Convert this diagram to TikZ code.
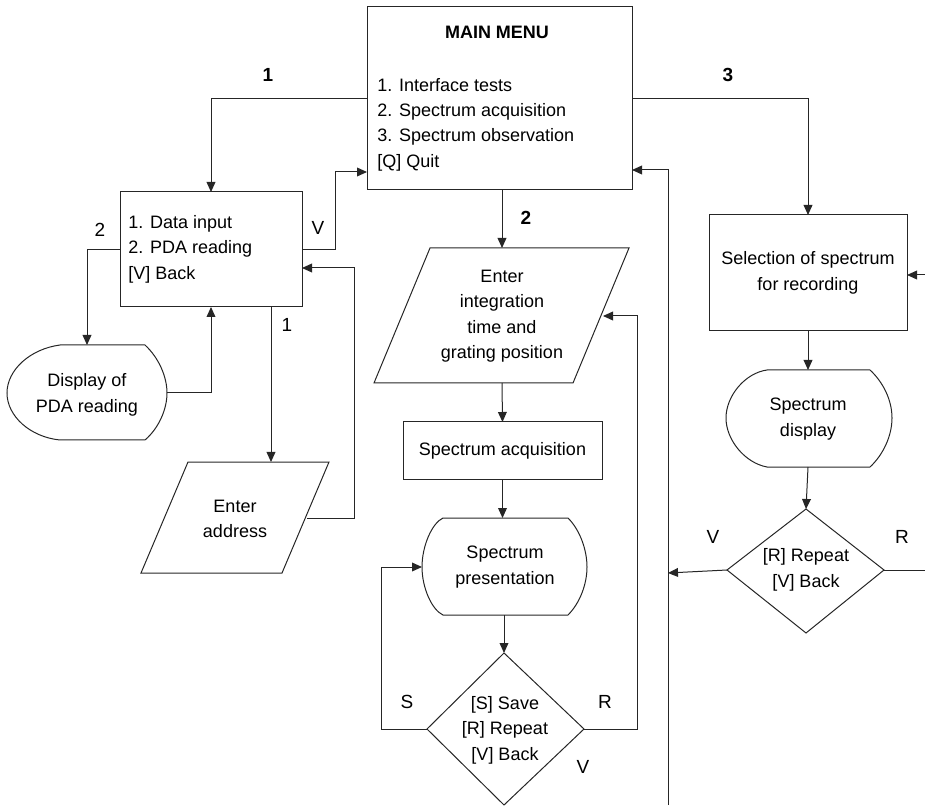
\documentclass[tikz,border=0pt]{standalone}
\usepackage{fontspec}
\setmainfont{Liberation Sans}
\usetikzlibrary{arrows.meta}
\begin{document}
\begin{tikzpicture}[x=0.5pt,y=-0.5pt,
  line/.style={draw=black!85, line width=0.5pt},
  arr/.style={line, -{Triangle[length=5pt,width=4.4pt]}},
  txt/.style={font=\fontsize{9}{12.7}\selectfont, align=center, inner sep=0pt},
  btxt/.style={font=\bfseries\fontsize{9}{12.7}\selectfont, inner sep=0pt},
  lbl/.style={font=\fontsize{9.5}{11}\selectfont, inner sep=0pt},
  blbl/.style={font=\bfseries\fontsize{9.5}{11}\selectfont, inner sep=0pt},
  box/.style={line, rectangle, inner sep=0pt, outer sep=0pt}]
\useasboundingbox (0,0) rectangle (925,806);

% ---------- main menu ----------
\node[box, minimum width=132.5pt, minimum height=91.5pt] (menu) at (499.5,98.5) {};
\node[btxt] (menutitle) at (497,32) {MAIN MENU};
\node[txt, align=left, anchor=west] (menutext) at (377,124.5)
  {1. Interface tests\\2. Spectrum acquisition\\3. Spectrum observation\\{}[Q] Quit};

% ---------- left column ----------
\node[box, minimum width=91pt, minimum height=57.5pt] (lbox) at (211,249.5) {};
\node[txt, align=left, anchor=west] (lboxtext) at (128,249)
  {1. Data input\\2. PDA reading\\{}[V] Back};

% display of PDA reading
\draw[line] (60,345) -- (145,345) .. controls (159,358) and (167,377) .. (167,393)
  .. controls (167,409) and (159,428) .. (145,440) -- (60,440)
  .. controls (30,437) and (7,416) .. (7,393)
  .. controls (7,370) and (30,349) .. (60,345) -- cycle;
\coordinate (d1t) at (87,345);
\coordinate (d1r) at (167,393);
\node[txt] (disp1) at (87,395) {Display of\\PDA reading};

% enter address
\draw[line] (188,462) -- (329,462) -- (282,573) -- (141,573) -- cycle;
\coordinate (par2t) at (271,462);
\coordinate (par2r) at (307,518);
\node[txt] (par2) at (235,519) {Enter\\address};

% ---------- middle column ----------
\draw[line] (430,248) -- (629,248) -- (573,383) -- (374,383) -- cycle;
\coordinate (par1t) at (502,248);
\coordinate (par1b) at (502,383);
\coordinate (par1r) at (603,316);
\node[txt] (par1) at (502,316) {Enter\\integration\\time and\\grating position};

\node[box, txt, minimum width=99.5pt, minimum height=28.5pt] (acqbox) at (502.5,450.5) {Spectrum acquisition};

% spectrum presentation
\draw[line] (443,518) -- (568,518) .. controls (580,530) and (587,550) .. (587,567)
  .. controls (587,584) and (580,603) .. (568,615) -- (443,615)
  .. controls (432,610) and (422,588) .. (422,567)
  .. controls (422,546) and (432,523) .. (443,518) -- cycle;
\coordinate (d2t) at (502.5,518);
\coordinate (d2b) at (504,615);
\coordinate (d2l) at (422,567);
\node[txt] (disp2) at (505,567) {Spectrum\\presentation};

% diamond 1
\draw[line] (504,653) -- (584,729) -- (504,805) -- (427,729) -- cycle;
\coordinate (dia1t) at (504,653);
\coordinate (dia1l) at (427,729);
\coordinate (dia1r) at (584,729);
\node[txt] (dia1) at (505,730) {[S] Save\\{}[R] Repeat\\{}[V] Back};

% ---------- right column ----------
\node[box, txt, minimum width=99pt, minimum height=58pt] (selbox) at (808,273) {Selection of spectrum\\for recording};

% spectrum display
\draw[line] (767,370) -- (870,370) .. controls (883,382) and (892,400) .. (892,418)
  .. controls (892,436) and (883,455) .. (870,467) -- (767,467)
  .. controls (745,463) and (726,440) .. (726,418)
  .. controls (726,396) and (745,373) .. (767,370) -- cycle;
\coordinate (d3t) at (808,370);
\coordinate (d3b) at (808,467);
\node[txt] (disp3) at (808,419) {Spectrum\\display};

% diamond 2
\draw[line] (806,509) -- (884,570) -- (806,633) -- (727,570) -- cycle;
\coordinate (dia2t) at (806,509);
\coordinate (dia2l) at (727,570);
\coordinate (dia2r) at (884,570);
\node[txt] (dia2) at (806,570) {[R] Repeat\\{}[V] Back};

% free ends
\coordinate (retb) at (668,805);
\coordinate (retv) at (668,573);
\coordinate (rout) at (925,570);
\coordinate (rin) at (925,275);

% ---------- connectors ----------
\draw[arr] (menu.west) -| (lbox.north);
\draw[arr] (menu.south -| par1t) -- (par1t);
\draw[arr] (menu.east) -| (selbox.north);
\draw[arr] (lbox.east) -- ++(33,0) |- ([yshift=9pt]menu.south west);
\draw[arr] (lbox.west) -| (d1t);
\draw[arr] (d1r) -| (lbox.south);
\draw[arr] (lbox.south -| par2t) -- (par2t);
\draw[arr] (par2r) -- ++(47,0) |- ([yshift=-9.25pt]lbox.east);
\draw[arr] (par1b) -- (acqbox.north);
\draw[arr] (acqbox.south) -- (d2t);
\draw[arr] (d2b) -- (dia1t);
\draw[arr] (dia1l) -- ++(-46,0) |- (d2l);
\draw[arr] (dia1r) -- ++(53,0) |- (par1r);
\draw[arr] (retb) |- ([yshift=-35.75pt]menu.east);
\draw[arr] (selbox.south) -- (d3t);
\draw[arr] (d3b) -- (dia2t);
\draw[arr] (dia2l) -- (retv);
\draw[line] (dia2r) -- (rout);
\draw[arr] (rin) -- (selbox.east |- rin);

% ---------- labels ----------
\node[blbl] (l1) at (268,75) {1};
\node[blbl] (l3) at (728,75) {3};
\node[blbl] (l2) at (526,218) {2};
\node[lbl] (lv1) at (318,228) {V};
\node[lbl] (l2b) at (100,230) {2};
\node[lbl] (l1b) at (287,325) {1};
\node[lbl] (ls) at (407,702) {S};
\node[lbl] (lr1) at (605,702) {R};
\node[lbl] (lv2) at (583,767) {V};
\node[lbl] (lv3) at (713,537) {V};
\node[lbl] (lr2) at (902,537) {R};
\end{tikzpicture}
\end{document}
